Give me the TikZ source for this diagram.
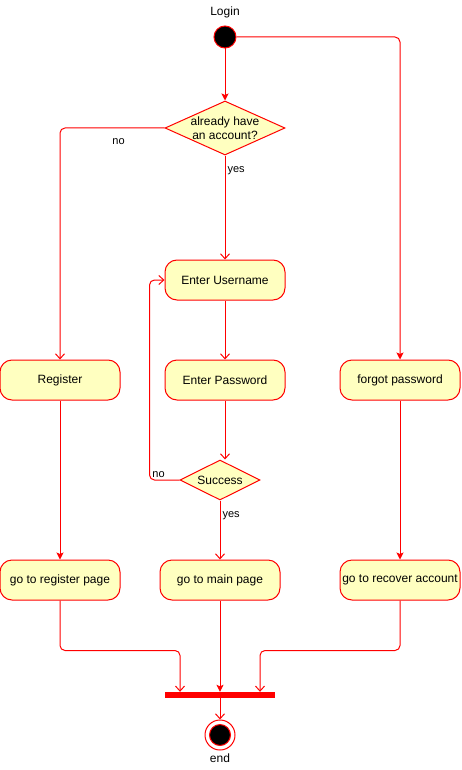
\documentclass[tikz,border=0pt]{standalone}
\usepackage{fontspec}
\setmainfont{Liberation Sans}
\usepackage{xcolor}
\usepackage{tikz}
\usetikzlibrary{shapes.geometric,arrows.meta,positioning}
\definecolor{actfill}{HTML}{FFFFC0}

\begin{document}
\begin{tikzpicture}[x=1pt, y=-1pt,
		every node/.style={font=\fontsize{12}{14}\selectfont},
		act/.style={draw=red, fill=actfill, line width=1pt, rounded corners=12pt, minimum width=120pt, minimum height=40pt, inner sep=0pt},
		decision/.style={draw=red, fill=actfill, line width=1pt, diamond, aspect=2, inner sep=-3pt, align=center},
		lbl/.style={font=\fontsize{11}{13}\selectfont, inner sep=2pt},
		solidarr/.style={draw=red, line width=1pt, -{Stealth[length=7pt,width=7pt,inset=1.5pt]}},
		openarr/.style={draw=red, line width=1pt, -{Straight Barb[length=5pt,width=9pt]}}]
		\useasboundingbox (0,0) rectangle (461,770);
		% start and first question
		\node[circle, fill=black, draw=red, line width=1pt, minimum size=22pt, inner sep=0pt] (start) at (225,37) {};
		\node[above=4pt of start] (login) {Login};
		\node[decision, minimum width=120pt, minimum height=54pt] (ask) at (225,128) {already have\\an account?};
		% activities
		\node[act] (user) at (225,280) {Enter Username};
		\node[act] (pass) at (225,380) {Enter Password};
		\node[act] (reg) at (60,380) {Register};
		\node[act] (forgot) at (400,380) {forgot password};
		\node[decision, minimum width=80pt, minimum height=40pt] (succ) at (220,480) {Success};
		\node[act] (regpage) at (60,580) {go to register page};
		\node[act] (main) at (220,580) {go to main page};
		\node[act] (recover) at (400,580) {go to recover account};
		% join bar and end
		\node[rectangle, fill=red, minimum width=110pt, minimum height=6pt, inner sep=0pt] (bar) at (220,695) {};
		\node[circle, draw=red, fill=white, line width=1pt, minimum size=30pt, inner sep=0pt,
			path picture={\draw[red, fill=black] (path picture bounding box.center) circle (10.5pt);}] (end) at (220,735) {};
		\node[below=0pt of end] (endlbl) {end};

		\draw[solidarr] (start) -- (ask);
		\draw[solidarr, rounded corners=5pt] (start.east) -| (forgot);
		\draw[openarr, rounded corners=5pt] (ask.west) -| node[lbl, pos=0.22, below=8pt] {no} (reg);
		\draw[openarr] (ask) -- node[lbl, pos=0.15, right] {yes} (user);
		\draw[openarr] (user) -- (pass);
		\draw[openarr] (pass.south) -- (pass.south |- succ.north);
		\draw[openarr, rounded corners=5pt] (succ.west) -- node[lbl, pos=0.7, above] {no} ++(-30,0) |- (user.west);
		\draw[openarr] (succ) -- node[lbl, pos=0.25, right] {yes} (main);
		\draw[solidarr] (reg) -- (regpage);
		\draw[solidarr] (forgot) -- (recover);
		\draw[openarr, rounded corners=5pt] (regpage.south) -- ++(0,50) -| ([xshift=-40pt]bar.north);
		\draw[solidarr] (main) -- (bar);
		\draw[openarr, rounded corners=5pt] (recover.south) -- ++(0,50) -| ([xshift=40pt]bar.north);
		\draw[openarr] (bar) -- (end);
	\end{tikzpicture}
\end{document}
